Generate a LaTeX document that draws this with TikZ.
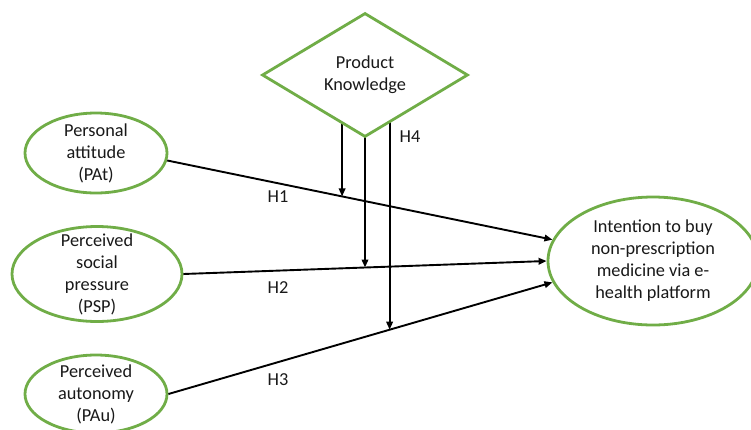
\documentclass[tikz,border=0pt]{standalone}
\usepackage{fontspec}
\setmainfont{Carlito}
\usetikzlibrary{shapes.geometric,backgrounds,arrows.meta}
\definecolor{kgreen}{RGB}{112,173,71}
\tikzset{
    every node/.style={font=\fontsize{18.3}{22}\selectfont,text=black!90},
    construct/.style={ellipse,draw=kgreen,line width=2.8pt,fill=white,inner xsep=0pt,inner ysep=-20pt,align=center},
    moderator/.style={diamond,draw=kgreen,line width=2.8pt,fill=white,inner sep=0pt,aspect=1.66,minimum width=206pt,minimum height=124pt,align=center},
    hyp/.style={line width=1.9pt,-{Triangle[length=8pt,width=6.5pt]}}
}
\begin{document}
\begin{tikzpicture}[x=1pt,y=-1pt]
    \useasboundingbox (0,0) rectangle (751,429);
    \node[moderator] (pk) at (365,75) {Product\\Knowledge};
    \node[construct,minimum width=142pt,minimum height=80pt] (pat) at (96,153) {Personal\\attitude\\(PAt)};
    \node[construct,minimum width=170pt,minimum height=95pt] (psp) at (97,274) {Perceived\\social\\pressure\\(PSP)};
    \node[construct,minimum width=142pt,minimum height=78pt] (pau) at (96,394) {Perceived\\autonomy\\(PAu)};
    \node[construct,minimum width=210pt,minimum height=128pt] (int) at (653,261) {Intention to buy\\non-prescription\\medicine via e-\\health platform};
    \draw[hyp] (pat.-6) -- coordinate[pos=.454] (k1) (int.168);
    \draw[hyp] (psp.east) -- coordinate[pos=.5] (k2) (int.west);
    \draw[hyp] (pau.east) -- coordinate[pos=.576] (k3) (int.192);
    \begin{scope}[on background layer]
        \draw[hyp] (k1 |- pk.center) -- (k1);
        \draw[hyp] (k2 |- pk.center) -- (k2);
        \draw[hyp] (k3 |- pk.center) -- (k3);
    \end{scope}
    \node (h1) at (278,197) {H1};
    \node (h2) at (278,288) {H2};
    \node (h3) at (278,380) {H3};
    \node (h4) at (410,137) {H4};
\end{tikzpicture}
\end{document}
